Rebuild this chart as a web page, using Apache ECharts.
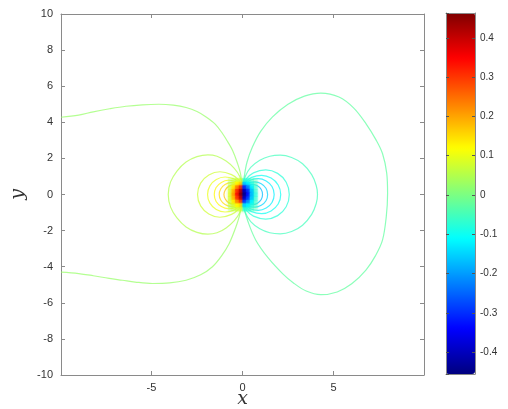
<!DOCTYPE html>
<html>
<head>
<meta charset="utf-8">
<script src="https://cdn.jsdelivr.net/npm/echarts@6/dist/echarts.min.js"></script>
<style>
html,body{margin:0;padding:0;background:#fff;}
#chart{width:508px;height:409px;}
</style>
</head>
<body>
<div id="chart"></div>
<script>
// ---- data ----
// contour levels (positive left, negative right)
const levelsLeft  = [0.025, 0.05, 0.075, 0.10, 0.125, 0.15, 0.175];
const levelsRight = [-0.025, -0.05, -0.075, -0.10, -0.125, -0.15, -0.175];

// left (positive) contour lines
const contourL1 = [[-9.97,4.28],[-9.0,4.4],[-8.2,4.58],[-7.3,4.75],[-6.4,4.89],[-5.5,4.97],[-4.6,5.0],[-3.8,4.95],[-3.1,4.82],[-2.5,4.6],[-2.0,4.3],[-1.5,3.9],[-1.1,3.38],[-0.8,2.9],[-0.55,2.45],[-0.3,1.8],[-0.1,1.1],[0,0],
  [-0.15,-1.1],[-0.4,-1.9],[-0.73,-2.71],[-1.15,-3.4],[-1.65,-4.0],[-2.3,-4.45],[-3.1,-4.75],[-4.0,-4.9],[-4.95,-4.93],[-5.9,-4.85],[-6.6,-4.75],[-7.32,-4.65],[-8.2,-4.5],[-9.0,-4.38],[-9.97,-4.3]];
const contourL2 = [[0,0],[-0.05,0.6],[-0.15,1.0],[-0.45,1.45],[-0.9,1.85],[-1.4,2.12],[-1.9,2.2],[-2.5,2.1],[-3.1,1.8],[-3.6,1.3],[-3.95,0.7],[-4.08,0],[-3.95,-0.7],[-3.6,-1.3],[-3.1,-1.8],[-2.5,-2.1],[-1.9,-2.2],[-1.4,-2.12],[-0.9,-1.85],[-0.45,-1.45],[-0.15,-1.0],[-0.05,-0.6],[0,0]];
const contourL3 = [[0,0],[-0.05,0.5],[-0.2,0.8],[-0.6,1.1],[-1.24,1.26],[-1.85,1.08],[-2.3,0.63],[-2.47,0],[-2.3,-0.63],[-1.85,-1.08],[-1.24,-1.26],[-0.6,-1.1],[-0.2,-0.8],[-0.05,-0.5],[0,0]];
const contourL4 = [[0,0],[-0.05,0.4],[-0.2,0.68],[-0.5,0.88],[-0.96,0.97],[-1.44,0.83],[-1.79,0.48],[-1.92,0],[-1.79,-0.48],[-1.44,-0.83],[-0.96,-0.97],[-0.5,-0.88],[-0.2,-0.68],[-0.05,-0.4],[0,0]];
const contourL5 = [[0,0],[-0.05,0.35],[-0.2,0.6],[-0.45,0.74],[-0.78,0.79],[-1.16,0.67],[-1.45,0.39],[-1.55,0],[-1.45,-0.39],[-1.16,-0.67],[-0.78,-0.79],[-0.45,-0.74],[-0.2,-0.6],[-0.05,-0.35],[0,0]];
const contourL6 = [[0,0],[-0.05,0.3],[-0.15,0.5],[-0.35,0.62],[-0.64,0.66],[-0.96,0.56],[-1.19,0.32],[-1.28,0],[-1.19,-0.32],[-0.96,-0.56],[-0.64,-0.66],[-0.35,-0.62],[-0.15,-0.5],[-0.05,-0.3],[0,0]];
const contourL7 = [[0,0],[-0.05,0.25],[-0.15,0.42],[-0.3,0.5],[-0.51,0.53],[-0.76,0.45],[-0.94,0.26],[-1.02,0],[-0.94,-0.26],[-0.76,-0.45],[-0.51,-0.53],[-0.3,-0.5],[-0.15,-0.42],[-0.05,-0.25],[0,0]];

// right (negative) contour lines
const contourR1 = [[0,0],[0.1,1.0],[0.25,1.8],[0.55,2.64],[1.0,3.5],[1.65,4.3],[2.5,5.0],[3.4,5.45],[4.3,5.62],[5.3,5.4],[6.1,4.8],[6.78,3.93],[7.35,3.0],[7.69,2.27],[7.92,1.2],[7.97,0.05],[7.9,-1.2],[7.69,-2.53],[7.3,-3.4],[6.78,-4.19],[6.0,-4.95],[5.2,-5.4],[4.3,-5.55],[3.5,-5.35],[2.8,-4.9],[2.2,-4.38],[1.4,-3.5],[0.73,-2.53],[0.3,-1.5],[0.1,-0.8],[0,0]];
const contourR2 = [[0,0],[0.05,0.6],[0.15,1.0],[0.45,1.5],[0.95,1.9],[1.5,2.12],[2.07,2.18],[2.7,2.05],[3.3,1.7],[3.8,1.1],[4.05,0.5],[4.12,0],[4.05,-0.5],[3.8,-1.1],[3.3,-1.7],[2.7,-2.05],[2.07,-2.18],[1.5,-2.12],[0.95,-1.9],[0.45,-1.5],[0.15,-1.0],[0.05,-0.6],[0,0]];
const contourR3 = [[0,0],[0.05,0.5],[0.2,0.85],[0.6,1.2],[1.28,1.36],[1.93,1.17],[2.4,0.68],[2.57,0],[2.4,-0.68],[1.93,-1.17],[1.28,-1.36],[0.6,-1.2],[0.2,-0.85],[0.05,-0.5],[0,0]];
const contourR4 = [[0,0],[0.05,0.42],[0.2,0.72],[0.5,0.95],[1.05,1.06],[1.57,0.91],[1.96,0.53],[2.1,0],[1.96,-0.53],[1.57,-0.91],[1.05,-1.06],[0.5,-0.95],[0.2,-0.72],[0.05,-0.42],[0,0]];
const contourR5 = [[0,0],[0.05,0.36],[0.2,0.62],[0.45,0.8],[0.87,0.88],[1.3,0.75],[1.62,0.44],[1.74,0],[1.62,-0.44],[1.3,-0.75],[0.87,-0.88],[0.45,-0.8],[0.2,-0.62],[0.05,-0.36],[0,0]];
const contourR6 = [[0,0],[0.05,0.3],[0.15,0.5],[0.35,0.65],[0.69,0.7],[1.03,0.6],[1.29,0.35],[1.38,0],[1.29,-0.35],[1.03,-0.6],[0.69,-0.7],[0.35,-0.65],[0.15,-0.5],[0.05,-0.3],[0,0]];
const contourR7 = [[0,0],[0.05,0.25],[0.15,0.42],[0.3,0.53],[0.55,0.56],[0.82,0.48],[1.03,0.28],[1.1,0],[1.03,-0.28],[0.82,-0.48],[0.55,-0.56],[0.3,-0.53],[0.15,-0.42],[0.05,-0.25],[0,0]];

// dense core near the origin (contours merge into a solid patch)
const coreX = [-0.7, -0.5, -0.3, -0.1, 0.1, 0.3, 0.5, 0.7];
const coreY = [0.8, 0.6, 0.4, 0.2, 0, -0.2, -0.4, -0.6, -0.8];
const coreValues = [
  [0.03, 0.05, 0.07, 0.08, -0.08, -0.07, -0.05, -0.03],
  [0.05, 0.08, 0.12, 0.15, -0.15, -0.12, -0.08, -0.05],
  [0.07, 0.13, 0.22, 0.30, -0.30, -0.22, -0.12, -0.06],
  [0.08, 0.17, 0.30, 0.40, -0.40, -0.30, -0.16, -0.07],
  [0.09, 0.19, 0.33, 0.44, -0.44, -0.33, -0.17, -0.08],
  [0.08, 0.17, 0.30, 0.40, -0.40, -0.30, -0.16, -0.07],
  [0.07, 0.13, 0.22, 0.30, -0.30, -0.22, -0.12, -0.06],
  [0.05, 0.08, 0.12, 0.15, -0.15, -0.12, -0.08, -0.05],
  [0.03, 0.05, 0.07, 0.08, -0.08, -0.07, -0.05, -0.03]
];
const coreCell = [0.2, 0.2];

// colour scale range and axis ranges
const cMin = -0.455, cMax = 0.463;
const xRange = [-9.97, 9.97];
const yRange = [-10, 10];

// ---- rendering ----
const jetColors = ['#00007f','#0000ff','#007fff','#00ffff','#7fff7f','#ffff00','#ff7f00','#ff0000','#7f0000'];
function clamp(v){return Math.max(0, Math.min(1, v));}
function jet(v){
  const t = (v - cMin) / (cMax - cMin);
  const r = clamp(1.5 - Math.abs(4*t - 3)), g = clamp(1.5 - Math.abs(4*t - 2)), b = clamp(1.5 - Math.abs(4*t - 1));
  return 'rgb(' + Math.round(r*255) + ',' + Math.round(g*255) + ',' + Math.round(b*255) + ')';
}

const leftLines = [contourL1, contourL2, contourL3, contourL4, contourL5, contourL6, contourL7];
const rightLines = [contourR1, contourR2, contourR3, contourR4, contourR5, contourR6, contourR7];

const series = [];
function addLine(pts, level){
  series.push({
    type: 'line', xAxisIndex: 0, yAxisIndex: 0, data: pts, showSymbol: false, smooth: 0.35,
    lineStyle: {color: jet(level), width: 1.2, opacity: 0.72}, silent: true, z: 2
  });
}
leftLines.forEach((p,i) => addLine(p, levelsLeft[i]));
rightLines.forEach((p,i) => addLine(p, levelsRight[i]));

const coreData = [];
coreY.forEach((y, j) => coreX.forEach((x, i) => coreData.push([x, y, coreValues[j][i]])));
const coreSeriesIndex = series.length;
series.push({
  type: 'custom', xAxisIndex: 0, yAxisIndex: 0, data: coreData, z: 3, silent: true,
  renderItem: function(params, api){
    const x = api.value(0), y = api.value(1), v = api.value(2);
    const p = api.coord([x - coreCell[0]/2, y + coreCell[1]/2]);
    const s = api.size(coreCell);
    const col = jet(v);
    return {type:'rect', shape:{x:p[0], y:p[1], width:s[0]+0.6, height:s[1]+0.6},
      style:{fill: col, opacity: clamp(Math.abs(v)/0.14), shadowBlur: 3, shadowColor: col}};
  }
});

const axisCol = '#8a8a8a';
const labelStyle = {color:'#333', fontSize: 11, fontFamily: 'Liberation Sans, Arial, sans-serif'};

const option = {
  animation: false,
  backgroundColor: '#fff',
  grid: [
    {left: 61, top: 14, width: 363, height: 361, containLabel: false, outerBoundsMode: 'none'},
    {left: 446, top: 13, width: 29, height: 361, containLabel: false, outerBoundsMode: 'none'}
  ],
  xAxis: [
    {gridIndex:0, type:'value', min:xRange[0], max:xRange[1], splitNumber:4, position:'bottom',
     axisLine:{onZero:false, lineStyle:{color:axisCol}}, axisTick:{inside:true, length:4, lineStyle:{color:axisCol}},
     axisLabel:Object.assign({margin:7, showMinLabel:false, showMaxLabel:false}, labelStyle), splitLine:{show:false},
     name:'x', nameLocation:'middle', nameGap:15, nameMoveOverlap:false,
     nameTextStyle:{fontFamily:'DejaVu Serif, serif', fontStyle:'italic', fontSize:19, color:'#333'}},
    {gridIndex:0, type:'value', min:xRange[0], max:xRange[1], splitNumber:4, position:'top',
     axisLine:{onZero:false, lineStyle:{color:axisCol}}, axisTick:{inside:true, length:4, lineStyle:{color:axisCol}},
     axisLabel:{show:false}, splitLine:{show:false}},
    {gridIndex:1, type:'value', min:0, max:1, position:'bottom', z:10,
     axisLine:{onZero:false, lineStyle:{color:axisCol}}, axisTick:{show:false}, axisLabel:{show:false}, splitLine:{show:false}},
    {gridIndex:1, type:'value', min:0, max:1, position:'top', z:10,
     axisLine:{onZero:false, lineStyle:{color:axisCol}}, axisTick:{show:false}, axisLabel:{show:false}, splitLine:{show:false}}
  ],
  yAxis: [
    {gridIndex:0, type:'value', min:yRange[0], max:yRange[1], interval:2, position:'left',
     axisLine:{onZero:false, lineStyle:{color:axisCol}}, axisTick:{inside:true, length:4, lineStyle:{color:axisCol}},
     axisLabel:Object.assign({margin:8}, labelStyle), splitLine:{show:false},
     name:'y', nameLocation:'middle', nameGap:33, nameMoveOverlap:false,
     nameTextStyle:{fontFamily:'DejaVu Serif, serif', fontStyle:'italic', fontSize:19, color:'#333'}},
    {gridIndex:0, type:'value', min:yRange[0], max:yRange[1], interval:2, position:'right',
     axisLine:{onZero:false, lineStyle:{color:axisCol}}, axisTick:{inside:true, length:4, lineStyle:{color:axisCol}},
     axisLabel:{show:false}, splitLine:{show:false}},
    {gridIndex:1, type:'value', min:cMin, max:cMax, splitNumber:9, position:'left', z:10,
     axisLine:{onZero:false, lineStyle:{color:axisCol}}, axisTick:{inside:true, length:3, lineStyle:{color:'#555'}},
     axisLabel:{show:false}, splitLine:{show:false}},
    {gridIndex:1, type:'value', min:cMin, max:cMax, splitNumber:9, position:'right', z:10,
     axisLine:{onZero:false, lineStyle:{color:axisCol}}, axisTick:{inside:true, length:3, lineStyle:{color:'#555'}},
     axisLabel:Object.assign({margin:5, showMinLabel:false, showMaxLabel:false,
       formatter: v => String(Math.round(v*10)/10)}, labelStyle, {fontSize:10}),
     splitLine:{show:false}}
  ],
  visualMap: [{
    type:'continuous', min:cMin, max:cMax, dimension:2, seriesIndex:[coreSeriesIndex],
    left:446, top:13, itemWidth:29, itemHeight:361, padding:0, calculable:false, hoverLink:false,
    inRange:{color: jetColors}, z: 4
  }],
  series: series
};

const chart = echarts.init(document.getElementById('chart'), null, {renderer:'canvas'});
chart.setOption(option);
</script>
</body>
</html>
